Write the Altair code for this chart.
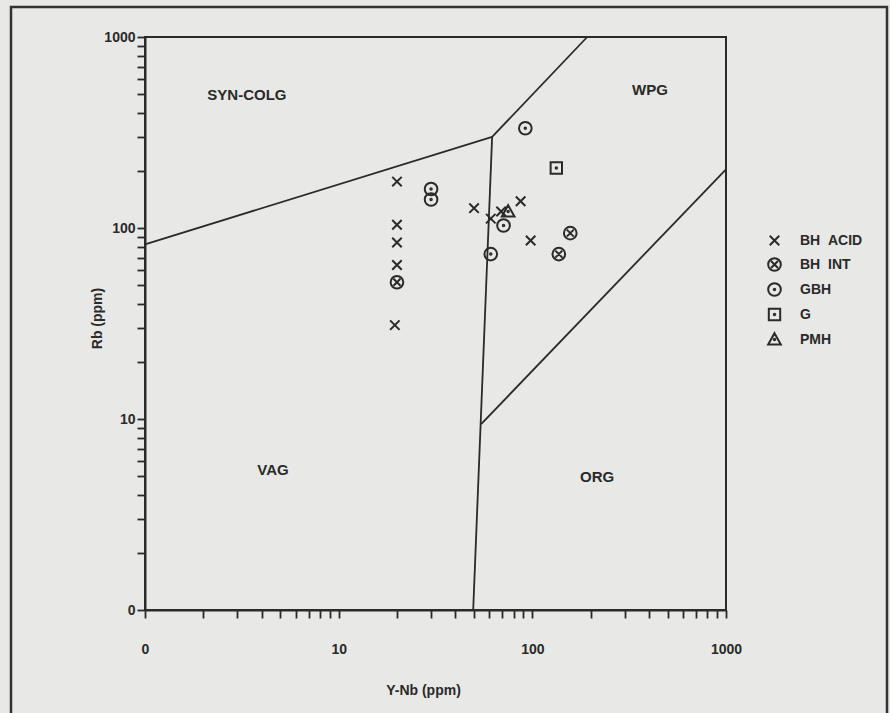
import altair as alt
import pandas as pd

# ---- sample data ----
groups = ["BH\u00a0\u00a0ACID", "BH\u00a0\u00a0INT", "GBH", "G", "PMH"]

bh_acid_x = [20, 20, 20, 20, 19.5, 50, 61, 69, 87, 98]
bh_acid_y = [175, 104, 84, 64, 31, 127, 112, 122, 138, 86]
bh_int_x = [20, 157, 137]
bh_int_y = [52, 94, 73]
gbh_x = [30, 30, 71, 61, 92]
gbh_y = [160, 141, 103, 73, 333]
g_x = [133]
g_y = [206]
pmh_x = [75]
pmh_y = [122]

# ---- field boundaries ----
seg_names = ["syn-colg/vag", "syn-colg/wpg", "vag/org", "wpg/org"]
seg_x = [[1, 62], [62, 192], [62, 49.5], [54.4, 1000]]
seg_y = [[82, 300], [300, 1000], [300, 1], [9.4, 203]]

# ---- field labels ----
field_names = ["SYN-COLG", "WPG", "VAG", "ORG"]
field_x = [3.36, 405, 4.58, 216]
field_y = [497, 528, 5.4, 4.97]

ticks = [m * 10 ** e for e in range(3) for m in range(1, 10)] + [1000]

# symbol paths (unit size)
circle = "M -1 0 A 1 1 0 1 0 1 0 A 1 1 0 1 0 -1 0 "
dot = "M -0.12 0 A 0.12 0.12 0 1 0 0.12 0 A 0.12 0.12 0 1 0 -0.12 0 "
shapes = [
    "M -0.75 -0.75 L 0.75 0.75 M -0.75 0.75 L 0.75 -0.75",
    circle + "M -0.55 -0.55 L 0.55 0.55 M -0.55 0.55 L 0.55 -0.55",
    circle + dot,
    "M -0.9 -0.9 L 0.9 -0.9 L 0.9 0.9 L -0.9 0.9 Z " + dot,
    "M 0 -1 L 1 0.8 L -1 0.8 Z " + dot,
]

rows = []
for name, xs, ys in zip(groups, [bh_acid_x, bh_int_x, gbh_x, g_x, pmh_x],
                        [bh_acid_y, bh_int_y, gbh_y, g_y, pmh_y]):
    for a, b in zip(xs, ys):
        rows.append({"group": name, "x": a, "y": b})
pts = pd.DataFrame(rows)

lrows = []
for n, xs, ys in zip(seg_names, seg_x, seg_y):
    for i, (a, b) in enumerate(zip(xs, ys)):
        lrows.append({"seg": n, "x": a, "y": b, "o": i})
lines = pd.DataFrame(lrows)

labels = pd.DataFrame({"name": field_names, "x": field_x, "y": field_y})

INK = "#2a2a2a"
FONT = "Liberation Sans"

label_expr = ("datum.value == 1 ? '0' : datum.value == 10 ? '10' : "
              "datum.value == 100 ? '100' : datum.value == 1000 ? '1000' : ''")

xscale = alt.Scale(type="log", domain=[1, 1000], nice=False)
yscale = alt.Scale(type="log", domain=[1, 1000], nice=False)

xaxis = alt.Axis(values=ticks, labelExpr=label_expr, grid=False, tickSize=8,
                 labelPadding=24, labelOverlap=False, labelFlush=False,
                 labelFont=FONT, labelFontWeight="bold", labelFontSize=14,
                 labelColor=INK, tickColor=INK, domainColor=INK, tickWidth=1.8,
                 domainWidth=2, title="Y-Nb (ppm)", titleFont=FONT,
                 titleFontWeight="bold", titleFontSize=14, titleColor=INK,
                 titleX=278, titleY=80, titleBaseline="middle")
yaxis = alt.Axis(values=ticks, labelExpr=label_expr, grid=False, tickSize=8,
                 labelPadding=2, labelOverlap=False, labelFlush=False,
                 labelFont=FONT, labelFontWeight="bold", labelFontSize=14,
                 labelColor=INK, tickColor=INK, domainColor=INK, tickWidth=1.8,
                 domainWidth=2, title="Rb (ppm)", titleFont=FONT,
                 titleFontWeight="bold", titleFontSize=14, titleColor=INK,
                 titleX=-48, titleY=281, titleBaseline="middle")

frame = alt.Chart(pd.DataFrame({"a": [0]})).mark_rect(
    filled=False, stroke="#333333", strokeWidth=2.5, clip=False
).encode(x=alt.value(-134), x2=alt.value(742), y=alt.value(-30), y2=alt.value(700))

bounds = alt.Chart(lines).mark_line(color=INK, strokeWidth=1.8).encode(
    x=alt.X("x:Q", scale=xscale, axis=xaxis),
    y=alt.Y("y:Q", scale=yscale, axis=yaxis),
    detail="seg:N",
    order="o:Q",
)

fields = alt.Chart(labels).mark_text(
    font=FONT, fontWeight="bold", fontSize=15, color=INK
).encode(x=alt.X("x:Q", scale=xscale), y=alt.Y("y:Q", scale=yscale), text="name:N")

points = alt.Chart(pts).mark_point(
    filled=False, size=160, strokeWidth=2, color=INK, opacity=1
).encode(
    x=alt.X("x:Q", scale=xscale),
    y=alt.Y("y:Q", scale=yscale),
    shape=alt.Shape("group:N", scale=alt.Scale(domain=groups, range=shapes),
                    legend=alt.Legend(title=None, orient="none", legendX=622,
                                      legendY=196, labelFont=FONT,
                                      labelFontWeight="bold", labelFontSize=14,
                                      labelColor=INK, symbolSize=160,
                                      symbolStrokeWidth=2,
                                      symbolStrokeColor=INK,
                                      symbolFillColor="transparent",
                                      labelOffset=18, rowPadding=4)),
)

chart = alt.layer(frame, bounds, fields, points).properties(
    width=581, height=573,
    autosize=alt.AutoSizeParams(type="none"),
    padding={"left": 145, "top": 37, "right": 164, "bottom": 103},
    background="#e8e8e6",
).configure_view(stroke=INK, strokeWidth=2, fill="#e8e8e6")

chart.save("out.html", embed_options={"renderer": "svg", "actions": False})
